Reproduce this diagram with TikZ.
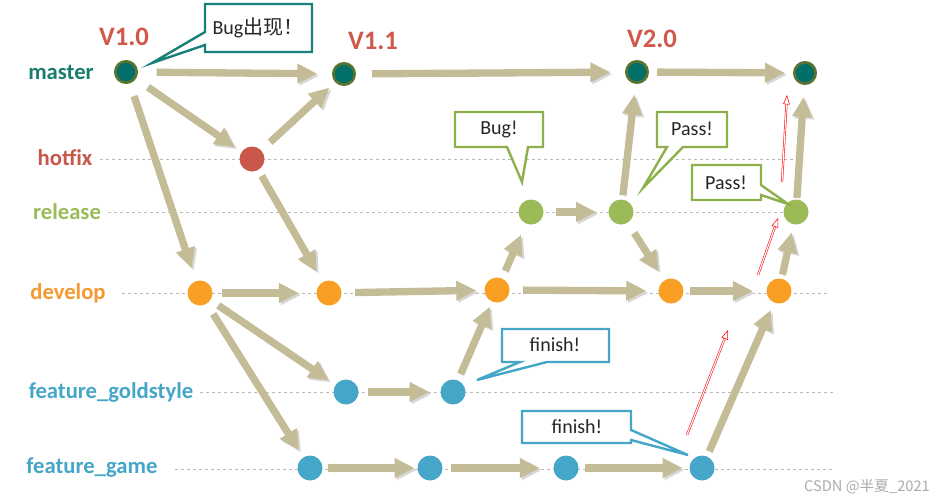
\documentclass[tikz,border=0pt]{standalone}
\usepackage{fontspec}
\setmainfont{Carlito}
\newfontfamily\cjk{Noto Sans CJK SC}
\usetikzlibrary{arrows.meta}
\definecolor{mteal}{HTML}{006F68}
\definecolor{molive}{HTML}{5A7330}
\definecolor{tealtxt}{HTML}{1A7D70}
\definecolor{hred}{HTML}{C9574A}
\definecolor{rgreen}{HTML}{9BBB59}
\definecolor{dorange}{HTML}{F9A024}
\definecolor{otxt}{HTML}{F59A30}
\definecolor{fblue}{HTML}{45A6C8}
\definecolor{vred}{HTML}{D0594B}
\definecolor{arrowc}{HTML}{C4BC96}
\definecolor{shadowc}{HTML}{D6D6D6}
\definecolor{cteal}{HTML}{17807A}
\definecolor{cgreen}{HTML}{8DB04C}
\definecolor{cblue}{HTML}{45A6C8}
\begin{document}
\begin{tikzpicture}[x=0.75pt,y=-0.75pt,
  lbl/.style={font=\fontsize{17}{19}\selectfont\bfseries},
  ver/.style={font=\fontsize{20}{22}\selectfont\bfseries, text=vred},
  mnode/.style={circle, minimum size=16pt, inner sep=0pt, fill=mteal, draw=molive, line width=2pt},
  cnode/.style={circle, minimum size=18.75pt, inner sep=0pt},
  flow/.style={line width=5.5pt, draw=arrowc, -{Triangle[length=15pt,width=14pt]},
     preaction={draw=shadowc, transform canvas={shift={(1.5pt,-1.5pt)}}}},
  dline/.style={draw=gray!55, line width=0.6pt, dash pattern=on 2.5pt off 2pt},
  callbox/.style={fill=white, line width=1.8pt, line join=miter},
  ctext/.style={font=\fontsize{15}{17}\selectfont, text=black!85},
  redarr/.style={draw=red, line width=0.4pt, double=white, double distance=0.8pt,
     -{Triangle[open, length=7pt, width=5pt]}}
]
\useasboundingbox[fill=white] (0,0) rectangle (941,500);

% dashed guide lines
\draw[dline] (100,159) -- (798,159);
\draw[dline] (108,212) -- (810,212);
\draw[dline] (122,293) -- (827,293);
\draw[dline] (200,392) -- (833,392);
\draw[dline] (175,469) -- (832,469);

% branch labels
\node[lbl, text=tealtxt] (lmaster) at (61,72) {master};
\node[lbl, text=hred] (lhotfix) at (65,158) {hotfix};
\node[lbl, text=rgreen] (lrelease) at (67,212) {release};
\node[lbl, text=otxt] (ldevelop) at (68,293) {develop};
\node[lbl, text=fblue] (lgold) at (111,392) {feature\_goldstyle};
\node[lbl, text=fblue] (lgame) at (92,468) {feature\_game};

% versions
\node[ver] (v10) at (124,37) {V1.0};
\node[ver] (v11) at (373,41) {V1.1};
\node[ver] (v20) at (652,39) {V2.0};

% commits
\node[mnode] (m1) at (126,72) {};
\node[mnode] (m2) at (344,74) {};
\node[mnode] (m3) at (637,72) {};
\node[mnode] (m4) at (805,73) {};
\node[cnode, fill=hred] (h1) at (252,159) {};
\node[cnode, fill=rgreen] (r1) at (531,212) {};
\node[cnode, fill=rgreen] (r2) at (621,212) {};
\node[cnode, fill=rgreen] (r3) at (796,212) {};
\node[cnode, fill=dorange] (d1) at (200,293) {};
\node[cnode, fill=dorange] (d2) at (329,293) {};
\node[cnode, fill=dorange] (d3) at (497,290) {};
\node[cnode, fill=dorange] (d4) at (671,291) {};
\node[cnode, fill=dorange] (d5) at (779,291) {};
\node[cnode, fill=fblue] (g1) at (346,392) {};
\node[cnode, fill=fblue] (g2) at (453,392) {};
\node[cnode, fill=fblue] (f1) at (310,468) {};
\node[cnode, fill=fblue] (f2) at (430,468) {};
\node[cnode, fill=fblue] (f3) at (566,468) {};
\node[cnode, fill=fblue] (f4) at (702,468) {};

% flows
\draw[flow, shorten <=14pt, shorten >=11pt] (m1) -- (m2);
\draw[flow, shorten <=12pt, shorten >=11pt] (m2) -- (m3);
\draw[flow, shorten <=6pt, shorten >=6pt] (m3) -- (m4);
\draw[flow, shorten <=11pt, shorten >=6pt] (m1) -- (h1);
\draw[flow, shorten <=9pt, shorten >=6pt] (h1) -- (m2);
\draw[flow, shorten <=10pt, shorten >=10pt] (m1) -- (d1);
\draw[flow, shorten <=5pt, shorten >=9pt] (h1) -- (d2);
\draw[flow, shorten <=7pt, shorten >=13pt] (d1) -- (d2);
\draw[flow, shorten <=10pt, shorten >=6pt] (d2) -- (d3);
\draw[flow, shorten <=10pt, shorten >=9pt] (d3) -- (d4);
\draw[flow, shorten <=5pt, shorten >=10pt] (d4) -- (d5);
\draw[flow, shorten <=7pt, shorten >=6pt] (d1) -- (g1);
\draw[flow, shorten <=9pt, shorten >=6pt] (d1) -- (f1);
\draw[flow, shorten <=7pt, shorten >=8pt] (g1) -- (g2);
\draw[flow, shorten <=5pt, shorten >=4pt] (g2) -- (d3);
\draw[flow, shorten <=6pt, shorten >=9pt] (d3) -- (r1);
\draw[flow, shorten <=9pt, shorten >=9pt] (r1) -- (r2);
\draw[flow, shorten <=3pt, shorten >=8pt] (r2) -- (m3);
\draw[flow, shorten <=9pt, shorten >=8pt] (r2) -- (d4);
\draw[flow, shorten <=4pt, shorten >=2pt] (f1) -- (f2);
\draw[flow, shorten <=6pt, shorten >=10pt] (f2) -- (f3);
\draw[flow, shorten <=5pt, shorten >=5pt] (f3) -- (f4);
\draw[flow, shorten <=4pt, shorten >=6pt] (f4) -- (d5);
\draw[flow, shorten <=3pt, shorten >=6pt] (d5) -- (r3);
\draw[flow, shorten <=1pt, shorten >=9pt] (r3) -- (m4);

% red hollow arrows
\coordinate (ra1) at (687,435); \coordinate (rb1) at (728,330);
\coordinate (ra2) at (758,275); \coordinate (rb2) at (778,218);
\coordinate (ra3) at (782,182); \coordinate (rb3) at (787,95);
\draw[redarr] (ra1) -- (rb1);
\draw[redarr] (ra2) -- (rb2);
\draw[redarr] (ra3) -- (rb3);

% callouts
\draw[callbox, draw=cteal] (205,4) -- (312,4) -- (312,52) -- (205,52) -- (205,45) -- (152,63) -- (205,32) -- cycle;
\node[ctext] (cbug1) at (258,28) {Bug{\cjk 出现！}};

\draw[callbox, draw=cgreen] (455,112) -- (543,112) -- (543,147) -- (528,147) -- (522,182) -- (507,147) -- (455,147) -- cycle;
\node[ctext] (cbug2) at (499,129) {Bug!};

\draw[callbox, draw=cgreen] (657,112) -- (727,112) -- (727,147) -- (683,147) -- (643,188) -- (667,147) -- (657,147) -- cycle;
\node[ctext] (cpass1) at (692,129) {Pass!};

\draw[callbox, draw=cgreen] (692,165) -- (761,165) -- (761,185) -- (788,204) -- (761,195) -- (761,200) -- (692,200) -- cycle;
\node[ctext] (cpass2) at (726,183) {Pass!};

\draw[callbox, draw=cblue] (502,329) -- (609,329) -- (609,362) -- (547,362) -- (477,380) -- (520,362) -- (502,362) -- cycle;
\node[ctext] (cfin1) at (555,345) {finish!};

\draw[callbox, draw=cblue] (522,411) -- (631,411) -- (631,430) -- (688,455) -- (631,440) -- (631,443) -- (522,443) -- cycle;
\node[ctext] (cfin2) at (577,427) {finish!};

% watermark
\node[font=\cjk\fontsize{11}{12}\selectfont, text=gray!65] (wm) at (867,487) {CSDN @半夏\_2021};
\end{tikzpicture}
\end{document}
